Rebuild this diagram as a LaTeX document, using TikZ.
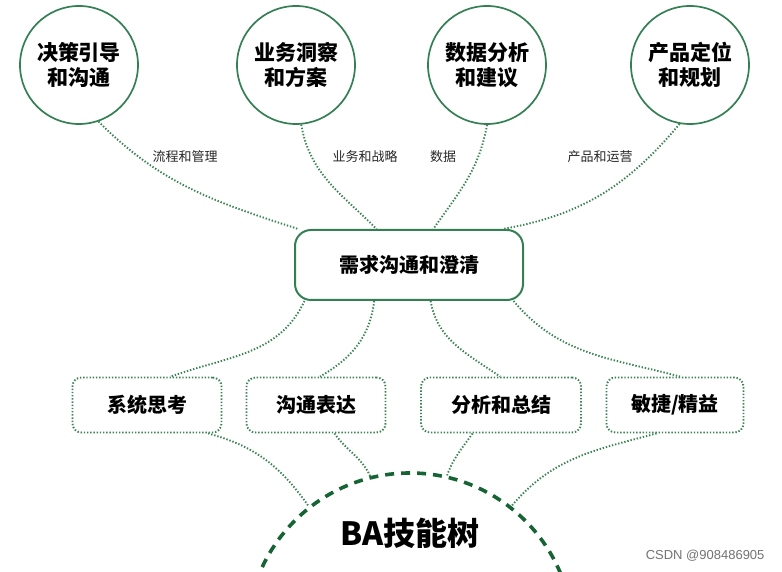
\documentclass[tikz,border=0pt]{standalone}
\usepackage{fontspec}
\newfontfamily\cjk{Noto Sans CJK SC}
\newfontfamily\wmfont{Liberation Sans}
\usetikzlibrary{positioning}
\definecolor{accG}{RGB}{52,128,84}
\definecolor{accD}{RGB}{22,100,52}
\definecolor{linkG}{RGB}{60,132,85}
\tikzset{
  topic/.style ={draw=accG, circle, line width=1.7pt, minimum size=118pt,
                 inner sep=0pt, align=center, font=\cjk\bfseries\fontsize{21}{25}\selectfont},
  hubbox/.style={draw=accG, rounded corners=16pt, line width=2pt,
                 minimum width=228pt, minimum height=70pt,
                 font=\cjk\bfseries\fontsize{20}{24}\selectfont},
  skill/.style ={draw=linkG, rounded corners=9pt, line width=1.9pt,
                 dash pattern=on 1.4pt off 1.8pt, minimum height=55pt,
                 font=\cjk\bfseries\fontsize{20}{24}\selectfont},
  root/.style  ={draw=accD, circle, line width=3.6pt, minimum size=326pt,
                 dash pattern=on 9pt off 7pt},
  link/.style  ={linkG, line width=1.9pt, dash pattern=on 1.4pt off 1.8pt},
  tag/.style   ={font=\cjk\fontsize{13}{15}\selectfont, text=black!85},
}
\begin{document}
\begin{tikzpicture}[x=1pt, y=1pt]
\useasboundingbox (0,0) rectangle (782,572);
\clip (0,0) rectangle (782,572);

% --- top topics ---
\node[topic] (decision) at (79, 507)  {决策引导\\和沟通};
\node[topic] (insight)  at (296, 507) {业务洞察\\和方案};
\node[topic] (data)     at (487, 507) {数据分析\\和建议};
\node[topic] (product)  at (690, 507) {产品定位\\和规划};

% --- hub ---
\node[hubbox] (hub) at (409, 307) {需求沟通和澄清};

% --- skills ---
\node[skill, minimum width=149pt] (sys)   at (147, 167) {系统思考};
\node[skill, minimum width=139pt] (comm)  at (316, 167) {沟通表达};
\node[skill, minimum width=160pt] (anal)  at (501, 167) {分析和总结};
\node[skill, minimum width=137pt] (agile) at (675, 167) {敏捷/精益};

% --- root ---
\node[root] (tree) at (410, -64) {};
\node[font=\cjk\bfseries\fontsize{32}{36}\selectfont] (ba) at (410, 39) {BA技能树};

% --- topic links ---
\draw[link] (decision.-71) to[out=-45, in=162] (hub.162);
\draw[link] (insight.-85)  to[out=-80, in=135] (hub.132);
\draw[link] (data.-90)     to[out=-100, in=55] (hub.56);
\draw[link] (product.-100) to[out=-130, in=10] (hub.21);

\node[tag] (tflow)  at (185, 415) {流程和管理};
\node[tag] (tbiz)   at (365, 415) {业务和战略};
\node[tag] (tdata)  at (443, 415) {数据};
\node[tag] (tprod)  at (600, 415) {产品和运营};

% --- hub to skills ---
\draw[link] (hub.-161) to[out=-115, in=20]  (sys.50);
\draw[link] (hub.-134) to[out=-97, in=30]   (comm.82);
\draw[link] (hub.-59)  to[out=-80, in=145]  (anal.92);
\draw[link] (hub.-19)  to[out=-50, in=165]  (agile.80);

% --- skills to root ---
\draw[link] (sys.-25)    to[out=-15, in=125]  (tree.128);
\draw[link] (comm.-57)   to[out=-55, in=115]  (tree.104);
\draw[link] (anal.-135)  to[out=-125, in=70]  (tree.77);
\draw[link] (agile.-123) to[out=-165, in=50]  (tree.52);

\node[font=\wmfont\fontsize{13}{15}\selectfont, text=black!55, anchor=east]
     (mark) at (768, 16) {CSDN @908486905};
\end{tikzpicture}
\end{document}
